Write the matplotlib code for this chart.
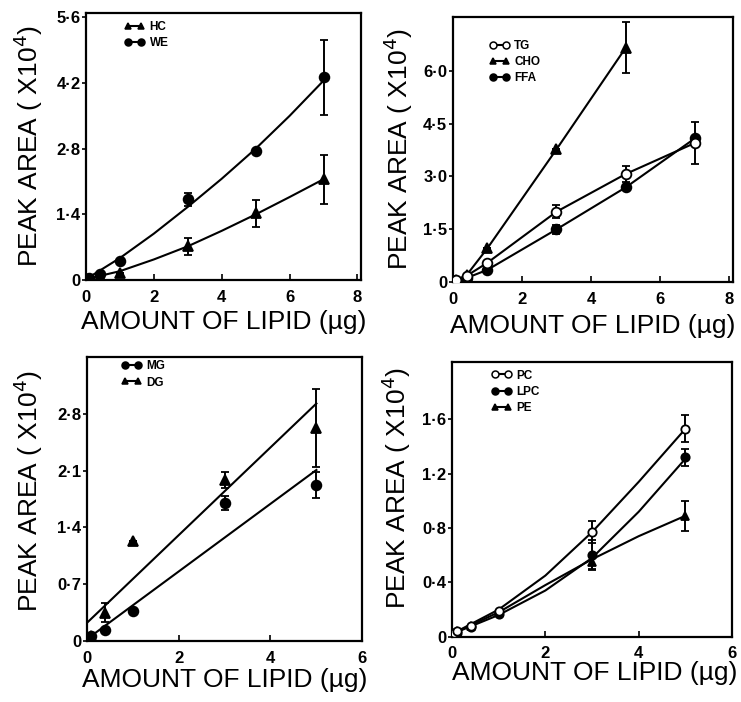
import matplotlib
matplotlib.use('Agg')
import matplotlib.pyplot as plt
from matplotlib.lines import Line2D

plt.rcParams['font.family'] = ['Liberation Sans', 'DejaVu Sans']

# panel A: HC / WE
x_a = [0.05, 0.1, 0.4, 1, 3, 5, 7]
hc = [0.02, 0.03, 0.08, 0.15, 0.72, 1.42, 2.15]
hc_err = [0, 0, 0, 0, 0.18, 0.28, 0.52]
we = [0.03, 0.05, 0.12, 0.40, 1.72, 2.76, 4.32]
we_err = [0, 0, 0, 0, 0.14, 0, 0.80]
curve_x_a = [0, 1, 2, 3, 4, 5, 6, 7]
hc_curve = [0.02, 0.19, 0.44, 0.72, 1.05, 1.40, 1.77, 2.15]
we_curve = [0.02, 0.47, 0.99, 1.56, 2.16, 2.80, 3.50, 4.25]

# panel B: TG / CHO / FFA
x_b = [0.05, 0.1, 0.4, 1, 3, 5, 7]
tg = [0.03, 0.06, 0.18, 0.55, 2.00, 3.07, 3.95]
tg_err = [0, 0, 0, 0, 0.18, 0.22, 0.60]
x_cho = [0.05, 0.1, 0.4, 1, 3, 5]
cho = [0.03, 0.06, 0.20, 0.96, 3.77, 6.65]
cho_err = [0, 0, 0, 0, 0, 0.72]
ffa = [0.02, 0.04, 0.12, 0.35, 1.50, 2.69, 4.08]
ffa_err = [0, 0, 0, 0, 0.12, 0, 0]

# panel C: MG / DG
x_c = [0.05, 0.1, 0.4, 1, 3, 5]
mg = [0.03, 0.06, 0.13, 0.37, 1.70, 1.93]
mg_err = [0, 0, 0, 0, 0.09, 0.16]
dg = [0.04, 0.06, 0.35, 1.23, 1.99, 2.63]
dg_err = [0, 0, 0.12, 0, 0.10, 0.48]
fit_x_c = [0, 5]
mg_fit = [0.02, 2.11]
dg_fit = [0.22, 2.93]

# panel D: PC / LPC / PE
x_d = [0.05, 0.1, 0.4, 1, 3, 5]
pc = [0.03, 0.04, 0.08, 0.19, 0.77, 1.53]
pc_err = [0, 0, 0, 0, 0.08, 0.10]
lpc = [0.02, 0.03, 0.07, 0.17, 0.60, 1.32]
lpc_err = [0, 0, 0, 0, 0.11, 0.06]
pe = [0.03, 0.04, 0.08, 0.18, 0.55, 0.89]
pe_err = [0, 0, 0, 0, 0.05, 0.11]
curve_x_d = [0, 1, 2, 3, 4, 5]
pc_curve = [0.02, 0.20, 0.45, 0.77, 1.14, 1.53]
lpc_curve = [0.02, 0.16, 0.34, 0.58, 0.92, 1.31]
pe_curve = [0.02, 0.18, 0.38, 0.57, 0.74, 0.89]

YLABEL = 'PEAK AREA ( X10$^{4}$)'
XLABEL = 'AMOUNT OF LIPID (\u00b5g)'

fig = plt.figure(figsize=(7.41, 7.02), dpi=100)
ax_a = fig.add_axes([0.116, 0.601, 0.371, 0.381])
ax_b = fig.add_axes([0.611, 0.598, 0.378, 0.378])
ax_c = fig.add_axes([0.117, 0.087, 0.372, 0.404])
ax_d = fig.add_axes([0.610, 0.093, 0.378, 0.391])


def points(ax, x, y, err, marker, open_marker=False, size=7):
    face = 'white' if open_marker else 'black'
    ax.errorbar(x, y, yerr=err, fmt=marker, color='black', mfc=face, mec='black',
                ms=size, mew=1.3, elinewidth=1.4, capsize=3, capthick=1.4, zorder=3)


def curve(ax, x, y):
    ax.plot(x, y, color='black', lw=1.5, zorder=2)


def style(ax, xlim, ylim, xt, yt, ylabels, ylab_pos, xlab_pos):
    ax.set_xlim(*xlim)
    ax.set_ylim(*ylim)
    ax.set_xticks(xt)
    ax.set_xticklabels([str(v) for v in xt], fontweight='bold', fontsize=12)
    ax.set_yticks(yt)
    ax.set_yticklabels(ylabels, fontweight='bold', fontsize=12)
    ax.tick_params(axis='x', direction='in', length=4, width=1.2, pad=7)
    ax.tick_params(axis='y', direction='out', length=3, width=1.2, pad=1)
    for s in ax.spines.values():
        s.set_linewidth(1.6)
    ax.set_ylabel(YLABEL, fontsize=19)
    ax.set_xlabel(XLABEL, fontsize=19)
    ax.yaxis.set_label_coords(*ylab_pos)
    ax.xaxis.set_label_coords(*xlab_pos)


def legend(ax, anchor, entries):
    handles = []
    labels = []
    for marker, open_marker, label in entries:
        handles.append(Line2D([], [], color='black', lw=1.5, marker=marker, ms=5,
                              mfc='white' if open_marker else 'black', mec='black', mew=1.1))
        labels.append(label)
    ax.legend(handles, labels, loc='upper left', bbox_to_anchor=anchor, numpoints=2,
              frameon=False, borderpad=0, handlelength=1.7, handletextpad=0.4,
              labelspacing=0.35, prop={'weight': 'bold', 'size': 8.5})


# A
curve(ax_a, curve_x_a, hc_curve)
curve(ax_a, curve_x_a, we_curve)
points(ax_a, x_a, hc, hc_err, '^')
points(ax_a, x_a, we, we_err, 'o')
style(ax_a, (0, 8.1), (0, 5.7), [0, 2, 4, 6, 8], [0, 1.4, 2.8, 4.2, 5.6],
      ['0', '1\u00b74', '2\u00b78', '4\u00b72', '5\u00b76'], (-0.149, 0.5), (0.5, -0.11))
legend(ax_a, (0.12, 0.99), [('^', False, 'HC'), ('o', False, 'WE')])

# B
curve(ax_b, x_b, tg)
curve(ax_b, x_cho, cho)
curve(ax_b, x_b, ffa)
points(ax_b, x_b, ffa, ffa_err, 'o')
points(ax_b, x_cho, cho, cho_err, '^')
points(ax_b, x_b, tg, tg_err, 'o', open_marker=True)
style(ax_b, (0, 8.1), (0, 7.53), [0, 2, 4, 6, 8], [0, 1.5, 3.0, 4.5, 6.0],
      ['0', '1\u00b75', '3\u00b70', '4\u00b75', '6\u00b70'], (-0.136, 0.5), (0.5, -0.12))
legend(ax_b, (0.11, 0.935), [('o', True, 'TG'), ('^', False, 'CHO'), ('o', False, 'FFA')])

# C
ax_c.plot(fit_x_c, mg_fit, color='black', lw=1.5, zorder=2)
ax_c.plot(fit_x_c, dg_fit, color='black', lw=1.5, zorder=2)
points(ax_c, x_c, mg, mg_err, 'o')
points(ax_c, x_c, dg, dg_err, '^')
style(ax_c, (0, 6), (0, 3.5), [0, 2, 4, 6], [0, 0.7, 1.4, 2.1, 2.8],
      ['0', '0\u00b77', '1\u00b74', '2\u00b71', '2\u00b78'], (-0.152, 0.53), (0.5, -0.095))
legend(ax_c, (0.105, 1.01), [('o', False, 'MG'), ('^', False, 'DG')])

# D
curve(ax_d, curve_x_d, pc_curve)
curve(ax_d, curve_x_d, lpc_curve)
curve(ax_d, curve_x_d, pe_curve)
points(ax_d, x_d, pe, pe_err, '^', size=6)
points(ax_d, x_d, lpc, lpc_err, 'o', size=6)
points(ax_d, x_d, pc, pc_err, 'o', open_marker=True, size=6)
style(ax_d, (0, 6), (0, 2.02), [0, 2, 4, 6], [0, 0.4, 0.8, 1.2, 1.6],
      ['0', '0\u00b74', '0\u00b78', '1\u00b72', '1\u00b76'], (-0.139, 0.54), (0.51, -0.09))
legend(ax_d, (0.12, 0.995), [('o', True, 'PC'), ('o', False, 'LPC'), ('^', False, 'PE')])

fig.savefig('out.png', dpi=100, facecolor='white')
